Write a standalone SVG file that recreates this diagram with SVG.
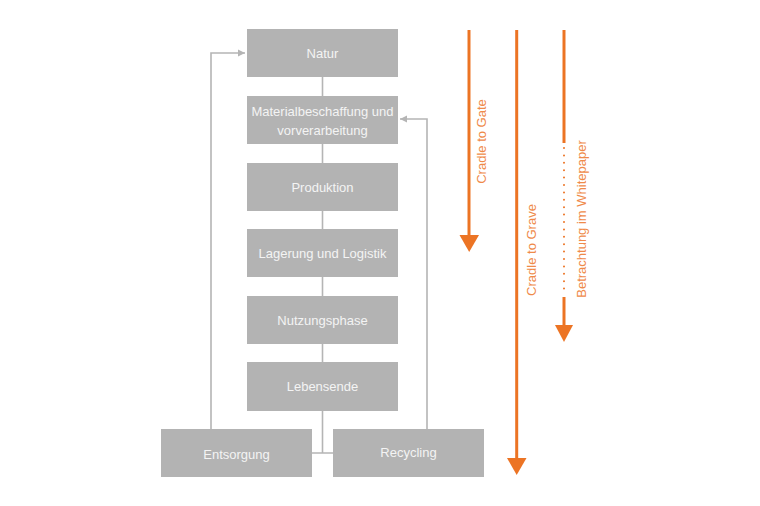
<svg xmlns="http://www.w3.org/2000/svg" width="760" height="506" viewBox="0 0 760 506">
<style>
.box{fill:#b3b3b3}
.bt{font-family:"Liberation Sans",Arial,sans-serif;font-size:13px;fill:#f4f4f4;text-anchor:middle}
.gl{fill:none;stroke:#b5b5b5;stroke-width:1.6}
.ol{fill:none;stroke:#ec7424;stroke-width:3}
.ot{font-family:"Liberation Sans",Arial,sans-serif;font-size:13px;fill:#ef8a4a;text-anchor:middle}
</style>
<defs>
<marker id="ga" markerWidth="8" markerHeight="8" refX="7" refY="4" orient="auto" markerUnits="userSpaceOnUse">
<path d="M0,0.5 L7,4 L0,7.5 Z" fill="#b5b5b5"/>
</marker>
</defs>
<rect width="760" height="506" fill="#ffffff"/>
<g id="connectors">
<path class="gl" d="M322.5,77 V96 M322.5,144 V163 M322.5,211 V229 M322.5,277 V296 M322.5,344 V362 M322.5,411 V453 M312,453 H333"/>
<path class="gl" d="M211,429 V53 H245" marker-end="url(#ga)"/>
<path class="gl" d="M427,429 V119 H400" marker-end="url(#ga)"/>
</g>
<g id="natur"><rect class="box" x="247" y="29" width="151" height="48"/><text class="bt" x="322.5" y="57.5">Natur</text></g>
<g id="material"><rect class="box" x="247" y="96" width="151" height="48"/><text class="bt" x="322.5" y="116">Materialbeschaffung und</text><text class="bt" x="322.5" y="135">vorverarbeitung</text></g>
<g id="produktion"><rect class="box" x="247" y="163" width="151" height="48"/><text class="bt" x="322.5" y="191.5">Produktion</text></g>
<g id="lagerung"><rect class="box" x="247" y="229" width="151" height="48"/><text class="bt" x="322.5" y="257.5">Lagerung und Logistik</text></g>
<g id="nutzung"><rect class="box" x="247" y="296" width="151" height="48"/><text class="bt" x="322.5" y="324.5">Nutzungsphase</text></g>
<g id="lebensende"><rect class="box" x="247" y="362" width="151" height="49"/><text class="bt" x="322.5" y="391">Lebensende</text></g>
<g id="entsorgung"><rect class="box" x="161" y="429" width="151" height="48"/><text class="bt" x="236.5" y="458.5">Entsorgung</text></g>
<g id="recycling"><rect class="box" x="333" y="429" width="151" height="48"/><text class="bt" x="408.5" y="457">Recycling</text></g>
<g id="cradle-gate">
<path class="ol" d="M469,30 V237"/>
<path d="M459.5,235 H479 L469.2,252 Z" fill="#ec7424"/>
<text class="ot" transform="translate(485.5,141.5) rotate(-90)">Cradle to Gate</text>
</g>
<g id="cradle-grave">
<path class="ol" d="M516.7,30 V460"/>
<path d="M507,458 H526.5 L516.7,475 Z" fill="#ec7424"/>
<text class="ot" transform="translate(535.5,250) rotate(-90)">Cradle to Grave</text>
</g>
<g id="whitepaper">
<path class="ol" d="M564,30 V143"/>
<path d="M564,148 V295" fill="none" stroke="#ec7424" stroke-width="2" stroke-linecap="round" stroke-dasharray="0 7.4"/>
<path class="ol" d="M564,297 V327"/>
<path d="M555,325 H573 L564,342 Z" fill="#ec7424"/>
<text class="ot" transform="translate(585.5,219) rotate(-90)">Betrachtung im Whitepaper</text>
</g>
</svg>
